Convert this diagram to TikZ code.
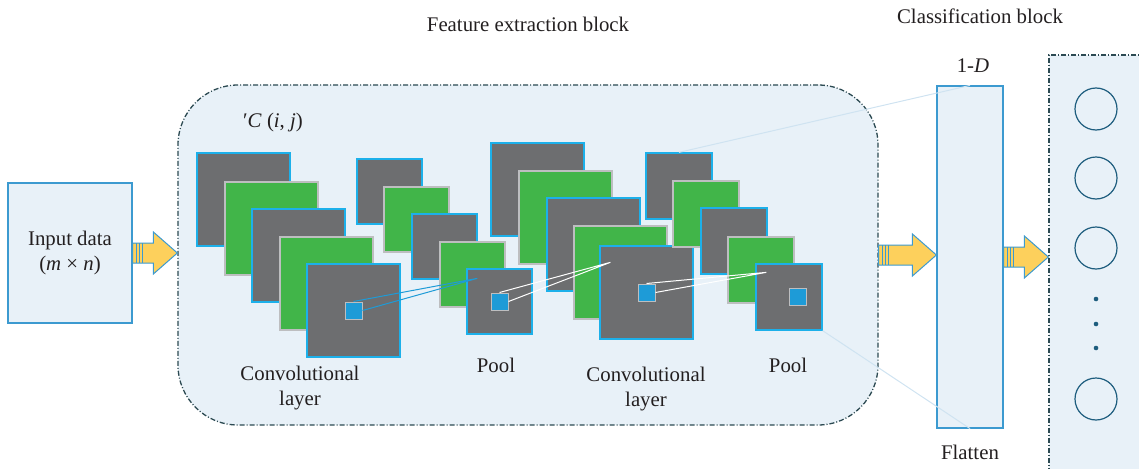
\documentclass[tikz,border=0pt]{standalone}
\usepackage{fontspec}
\setmainfont{Liberation Serif}
\usepackage{tikz}
\usetikzlibrary{calc,positioning}
\definecolor{edgec}{HTML}{3C9AD0}
\definecolor{panelc}{HTML}{E8F1F8}
\definecolor{dashc}{HTML}{2C4A52}
\definecolor{mapgray}{HTML}{6D6E70}
\definecolor{mapgreen}{HTML}{41B549}
\definecolor{mapedge}{HTML}{1CB0EA}
\definecolor{rimc}{HTML}{BDBEC0}
\definecolor{kernc}{HTML}{1E9BD7}
\definecolor{arrowc}{HTML}{FDD05C}
\definecolor{neuronc}{HTML}{1D5D7E}
\definecolor{linkc}{HTML}{CFE3F1}
\definecolor{txtc}{HTML}{231F20}
\tikzset{
  lbl/.style={font=\fontsize{20.8}{25}\selectfont,text=txtc,align=center,inner sep=0pt},
  panel/.style={draw=edgec,line width=1.2pt,fill=panelc,inner sep=0pt},
  dashpanel/.style={draw=dashc,line width=1.3pt,fill=panelc,dash pattern=on 5pt off 2pt on 1pt off 2pt,inner sep=0pt},
  gmap/.style={draw=mapedge,line width=1.3pt,fill=mapgray,inner sep=0pt},
  lmap/.style={draw=rimc,line width=1.3pt,fill=mapgreen,inner sep=0pt},
  kern/.style={draw=rimc,line width=1pt,fill=kernc,minimum size=17pt,inner sep=0pt},
  neuron/.style={circle,draw=neuronc,line width=1.2pt,minimum size=42pt,inner sep=0pt},
  fatar/.style={draw=edgec,line width=1pt,fill=arrowc,line join=miter}
}
% block arrow from the tail point #1 to the x of #2
\newcommand{\fatarrow}[2]{%
  \draw[fatar] let \p1=(#1),\p2=(#2) in
    (\x1,\y1+10pt) -- (\x2-24pt,\y1+10pt) -- (\x2-24pt,\y1+21pt) -- (\x2,\y1)
    -- (\x2-24pt,\y1-21pt) -- (\x2-24pt,\y1-10pt) -- (\x1,\y1-10pt) -- cycle;
  \draw[edgec,line width=0.9pt] let \p1=(#1) in
    (\x1+4pt,\y1+10pt) -- (\x1+4pt,\y1-10pt)
    (\x1+7pt,\y1+10pt) -- (\x1+7pt,\y1-10pt)
    (\x1+10pt,\y1+10pt) -- (\x1+10pt,\y1-10pt);
}

\begin{document}
\begin{tikzpicture}[x=1pt,y=-1pt]
\useasboundingbox (0,0) rectangle (1139,468);
\clip (0,0) rectangle (1139,468);

% panels
\node[panel,minimum width=124pt,minimum height=140pt] (inp) at (70,253) {};
\node[dashpanel,rounded corners=60pt,minimum width=700pt,minimum height=340pt] (fe) at (528,255) {};
\node[panel,minimum width=66pt,minimum height=342pt] (flt) at (970,257) {};
\node[dashpanel,minimum width=111pt,minimum height=435pt] (cls) at (1104.5,272.5) {};

\node[lbl] at (inp) {Input data\\(\textit{m} × \textit{n})};
\node[lbl] at (528,24) {Feature extraction block};
\node[lbl] at (980,16) {Classification block};
\node[lbl] at (973,66) {1-\textit{D}};
\node[lbl] at (970,452) {Flatten};
\node[lbl] at (273,122) {′\textit{C} (\textit{i}, \textit{j})};

% feature maps
\foreach \i/\sty/\px/\py in {1/gmap/243.5/199.5,2/lmap/271.5/228.5,3/gmap/298.5/255.5,4/lmap/326.5/283.5,5/gmap/353.5/310.5}
  \node[\sty,minimum size=93pt] (ca\i) at (\px,\py) {};
\foreach \i/\sty/\px/\py in {1/gmap/389.5/191.5,2/lmap/416.5/219.5,3/gmap/444.5/246.5,4/lmap/472.5/274.5,5/gmap/499.5/301.5}
  \node[\sty,minimum size=65pt] (cb\i) at (\px,\py) {};
\foreach \i/\sty/\px/\py in {1/gmap/537.5/189.5,2/lmap/565.5/217.5,3/gmap/593.5/244.5,4/lmap/620.5/272.5,5/gmap/646.5/292.5}
  \node[\sty,minimum size=93pt] (cc\i) at (\px,\py) {};
\foreach \i/\sty/\px/\py in {1/gmap/679/186,2/lmap/706/214,3/gmap/734/241,4/lmap/761/270,5/gmap/789/297}
  \node[\sty,minimum size=66pt] (cd\i) at (\px,\py) {};

\node[kern] (ka) at (ca5) {};
\node[kern] (kb) at (cb5) {};
\node[kern] (kc) at (cc5) {};
\node[kern,xshift=9pt] (kd) at (cd5) {};

\coordinate (pa) at ($(cb5.north west)+(11,10)$);
\coordinate (pb) at ($(cc5.north west)+(11,17)$);
\coordinate (pc) at ($(cd5.north west)+(11,9)$);
\draw[kernc,line width=1pt] (ka.north) -- (pa) -- (ka.east);
\draw[white,line width=1pt] (kb.north) -- (pb) -- (kb.east);
\draw[white,line width=1pt] (kc.north) -- (pc) -- (kc.east);

\draw[linkc,line width=1pt] (cd1.north) -- (flt.north);
\draw[linkc,line width=1pt] (cd5.south east) -- (flt.south);

\node[lbl] at (300,388) {Convolutional\\layer};
\node[lbl] at (496,365) {Pool};
\node[lbl] at (646,389) {Convolutional\\layer};
\node[lbl] at (788,365) {Pool};

% output neurons
\foreach \i/\py in {1/109,2/178,3/248,4/399}
  \node[neuron] (o\i) at (1096,\py) {};
\foreach \py in {299,324,348}
  \fill[neuronc] (1096,\py) circle (2.3pt);

\fatarrow{inp.east}{fe.west}
\fatarrow{fe.east}{flt.west}
\fatarrow{flt.east}{cls.west}
\end{tikzpicture}
\end{document}
